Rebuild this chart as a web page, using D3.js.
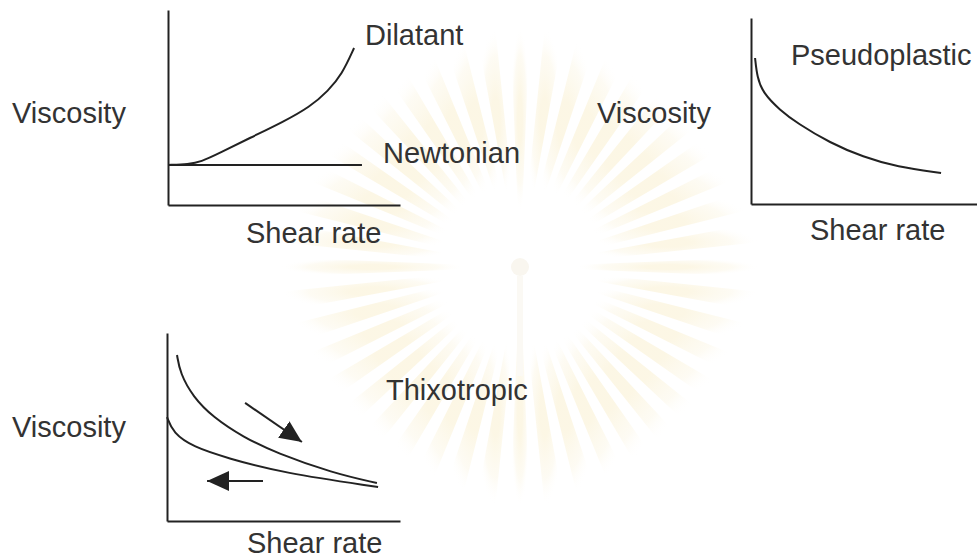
<!DOCTYPE html>
<html>
<head>
<meta charset="utf-8">
<script src="https://cdn.jsdelivr.net/npm/d3@7"></script>
<style>
  body { margin: 0; background: #fff; }
  svg text { font-family: "Liberation Sans", Arial, sans-serif; fill: #333; }
</style>
</head>
<body>
<svg id="canvas"></svg>
<script>
//--values (shear rate, viscosity), 0..10 units on each little plot
let newtonian = [[0, 2.05], [8.36, 2.05]];
let dilatant = [[0, 2.05], [0.9, 2.1], [1.4, 2.2], [2.24, 2.67], [3.53, 3.44], [4.96, 4.26], [6.12, 5.03], [6.9, 5.85], [7.5, 6.7], [8.02, 8.05]];
let pseudoplastic = [[0.18, 7.85], [0.27, 6.83], [0.53, 5.97], [1.28, 5.05], [2.04, 4.35], [3.5, 3.28], [4.96, 2.53], [6.46, 1.99], [8.41, 1.67]];
let thixoUp = [[0.43, 8.83], [0.56, 7.87], [1.12, 6.6], [1.97, 5.53], [3.26, 4.47], [4.68, 3.62], [7.12, 2.55], [9.01, 2.02]];
let thixoDown = [[0.0, 5.53], [0.26, 4.68], [1.12, 3.94], [2.58, 3.35], [4.98, 2.55], [9.06, 1.81]];
let arrowDown = [[3.35, 6.28], [5.79, 4.2]];
let arrowBack = [[4.12, 2.13], [1.72, 2.13]];

let yLabel = "Viscosity";
let xLabel = "Shear rate";
//--

let width = 977;
let height = 560;

let canvas = d3.select("#canvas")
canvas.attr("width", width)
canvas.attr("height", height)

//--faint emblem in the background
let defs = canvas.append("defs")
let grad = defs.append("radialGradient").attr("id", "glow")
grad.append("stop").attr("offset", "0.25").attr("stop-color", "#f5e3a8").attr("stop-opacity", 0.3)
grad.append("stop").attr("offset", "0.7").attr("stop-color", "#f7ebc4").attr("stop-opacity", 0.2)
grad.append("stop").attr("offset", "1").attr("stop-color", "#ffffff").attr("stop-opacity", 0)

let emblem = canvas.append("g").attr("transform", "translate(520,267)")
let rayArc = d3.arc().innerRadius(55).outerRadius(240)
let nRays = 44
for (let i = 0; i < nRays; i++) {
    let a = i * 2 * Math.PI / nRays
    emblem.append("path")
        .attr("d", rayArc({ startAngle: a - 0.04, endAngle: a + 0.04 }))
        .attr("fill", "url(#glow)")
}
emblem.append("circle").attr("cx", 0).attr("cy", 0).attr("r", 9).attr("fill", "#f9f6ef")
emblem.append("rect").attr("x", -3).attr("y", 9).attr("width", 6).attr("height", 100).attr("fill", "#fbf9f4")

//--arrow head
defs.append("marker")
    .attr("id", "head")
    .attr("viewBox", "0 0 22 20")
    .attr("refX", 22).attr("refY", 10)
    .attr("markerWidth", 22).attr("markerHeight", 20)
    .attr("markerUnits", "userSpaceOnUse")
    .attr("orient", "auto")
    .append("path")
    .attr("d", "M0,0 L22,10 L0,20 z")
    .attr("fill", "#222")

//--one little plot: axes lines only, curves, labels
let drawPanel = (opt) => {
    let x = d3.scaleLinear().domain([0, 10]).range([opt.left, opt.right])
    let y = d3.scaleLinear().domain([0, 10]).range([opt.bottom, opt.top])

    let g = canvas.append("g")

    g.append("g")
        .attr("transform", "translate(0," + opt.bottom + ")")
        .call(d3.axisBottom(x).tickValues([]).tickSizeOuter(0))
    g.append("g")
        .attr("transform", "translate(" + opt.left + ",0)")
        .call(d3.axisLeft(y).tickValues([]).tickSizeOuter(0))
    g.selectAll(".domain").attr("stroke", "#222").attr("stroke-width", 2)

    let line = d3.line()
                 .x(d => x(d[0]))
                 .y(d => y(d[1]))
                 .curve(d3.curveBasis)

    opt.curves.forEach(c => {
        g.append("path")
            .attr("d", line(c))
            .attr("fill", "none")
            .attr("stroke", "#222")
            .attr("stroke-width", 2)
    })

    let straight = d3.line().x(d => x(d[0])).y(d => y(d[1]))
    ;(opt.arrows || []).forEach(a => {
        g.append("path")
            .attr("d", straight(a))
            .attr("fill", "none")
            .attr("stroke", "#222")
            .attr("stroke-width", 2)
            .attr("marker-end", "url(#head)")
    })

    g.append("text").text(yLabel)
        .attr("x", opt.yLab[0]).attr("y", opt.yLab[1])
        .attr("font-size", 29)
    g.append("text").text(xLabel)
        .attr("x", opt.xLab[0]).attr("y", opt.xLab[1])
        .attr("font-size", 29)

    opt.names.forEach(n => {
        g.append("text").text(n[0])
            .attr("x", n[1]).attr("y", n[2])
            .attr("font-size", 29)
    })
}

drawPanel({
    left: 168, right: 400, top: 10, bottom: 205,
    curves: [newtonian, dilatant],
    yLab: [12, 123], xLab: [246, 243],
    names: [["Dilatant", 365, 45], ["Newtonian", 383, 163]]
})

drawPanel({
    left: 751, right: 977, top: 18, bottom: 204,
    curves: [pseudoplastic],
    yLab: [597, 123], xLab: [810, 240],
    names: [["Pseudoplastic", 791, 65]]
})

drawPanel({
    left: 167, right: 400, top: 333, bottom: 521,
    curves: [thixoUp, thixoDown],
    arrows: [arrowDown, arrowBack],
    yLab: [12, 437], xLab: [247, 553],
    names: [["Thixotropic", 386, 400]]
})
</script>
</body>
</html>
